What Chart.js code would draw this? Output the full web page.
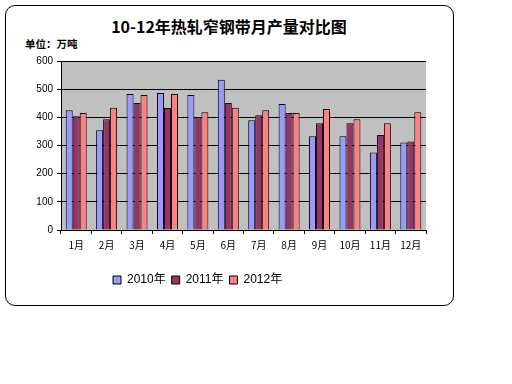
<!DOCTYPE html>
<html><head><meta charset="utf-8">
<script src="https://cdn.jsdelivr.net/npm/chart.js@4"></script>
<style>
html,body{margin:0;padding:0;background:#fff;width:512px;height:384px;overflow:hidden;font-family:"Noto Sans CJK SC",sans-serif;}
#frame{position:absolute;left:5px;top:5px;width:447px;height:299px;border:1px solid #000;border-radius:10px;}
#title{position:absolute;left:0;width:458px;top:14px;text-align:center;font-weight:bold;font-size:16px;color:#000;}
#unit{position:absolute;left:25px;top:36px;font-weight:bold;font-size:10.5px;color:#000;}
#wrap{position:absolute;left:0;top:0;width:512px;height:384px;}
</style></head><body>
<div id="frame"></div>
<div id="title">10-12年热轧窄钢带月产量对比图</div>
<div id="unit">单位：万吨</div>
<div id="wrap"><canvas id="c" width="512" height="384"></canvas></div>
<script>
const categories = ["1月","2月","3月","4月","5月","6月","7月","8月","9月","10月","11月","12月"];
const seriesNames = ["2010年","2011年","2012年"];
const v2010 = [425,354,483,486,479,533,390,447,333,333,275,311];
const v2011 = [404,393,451,433,399,451,407,415,379,379,337,314];
const v2012 = [415,434,479,483,418,434,425,415,430,393,379,418];
const yTicks = [0,100,200,300,400,500,600];
const colors = ["#9999FF","#993366","#FF8080"];

const bgPlugin = {
  id:'plotBg',
  beforeDraw(chart){
    const a = chart.chartArea, ctx = chart.ctx;
    ctx.save(); ctx.fillStyle = '#C0C0C0';
    ctx.fillRect(a.left, a.top, a.right-a.left, a.bottom-a.top);
    ctx.restore();
  },
  afterLayout(chart){
    const lg = chart.legend;
    const dx = 107 - lg.left, dy = 268 - lg.top;
    lg.left += dx; lg.right += dx; lg.top += dy; lg.bottom += dy;
  }
};

new Chart(document.getElementById('c'), {
  type:'bar',
  data:{
    labels: categories,
    datasets: [v2010, v2011, v2012].map((d,i)=>({
      label: seriesNames[i], data: d, backgroundColor: colors[i],
      borderColor:'#000', borderWidth:1, borderSkipped:'bottom'
    }))
  },
  options:{
    responsive:false, animation:false,
    layout:{padding:{left:10,right:86,top:61,bottom:104}},
    datasets:{bar:{categoryPercentage:0.69,barPercentage:1}},
    plugins:{
      title:{display:false},
      tooltip:{enabled:false},
      legend:{display:true, position:'bottom', align:'start',
        labels:{boxWidth:8, boxHeight:8, padding:6, color:'#000',
          font:{size:12, family:'"Liberation Sans","Noto Sans CJK SC"'}}}
    },
    scales:{
      x:{
        grid:{display:true, drawOnChartArea:false, drawTicks:true, tickLength:4, color:'#000', offset:true},
        border:{display:true, color:'#000', width:1},
        ticks:{color:'#000', padding:5, maxRotation:0, autoSkip:false,
          font:{size:10, family:'"Noto Sans CJK SC"'}},
        afterFit(s){ s.height = 22; }
      },
      y:{
        min:0, max:600,
        afterBuildTicks(s){ s.ticks = yTicks.map(v=>({value:v})); },
        grid:{color:'#000', drawTicks:true, tickLength:4, lineWidth:1},
        border:{display:true, color:'#000', width:1},
        ticks:{color:'#000', padding:4, font:{size:10, family:'"Liberation Sans"'}},
        afterFit(s){ s.width = 51; }
      }
    }
  },
  plugins:[bgPlugin]
});
</script>
</body></html>
